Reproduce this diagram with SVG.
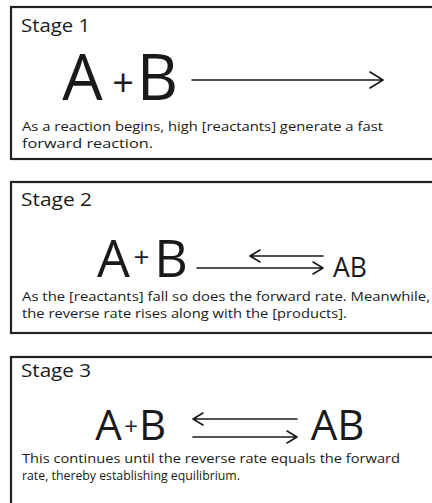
<svg xmlns="http://www.w3.org/2000/svg" width="432" height="503" viewBox="0 0 432 503">
  <style>
    .panel { fill: #ffffff; stroke: #222222; stroke-width: 2.2; }
    .title { font-family: "Open Sans", "Noto Sans", sans-serif; font-size: 18px; fill: #1a1a1a; }
    .caption { font-family: "Open Sans", "Noto Sans", sans-serif; font-size: 12.6px; fill: #1a1a1a; }
    .chem { font-family: "Open Sans", "Noto Sans", sans-serif; fill: #1a1a1a; text-anchor: middle; }
    .arrow { fill: none; stroke: #1a1a1a; stroke-width: 1.6; stroke-linecap: round; stroke-linejoin: round; }
  </style>
  <rect width="432" height="503" fill="#ffffff"/>

  <g id="stage1">
    <rect class="panel" x="11" y="7" width="430" height="152"/>
    <text class="title" x="21" y="32" textLength="69" lengthAdjust="spacingAndGlyphs">Stage 1</text>
    <text class="chem" x="82.5" y="100" font-size="64">A</text>
    <text class="chem" x="123" y="96" font-size="38">+</text>
    <text class="chem" x="157.5" y="100" font-size="64">B</text>
    <text class="caption" x="22" y="131" textLength="361" lengthAdjust="spacingAndGlyphs">As a reaction begins, high [reactants] generate a fast</text>
    <text class="caption" x="22" y="148" textLength="131" lengthAdjust="spacingAndGlyphs">forward reaction.</text>
  </g>

  <g id="stage2">
    <rect class="panel" x="11" y="182" width="430" height="151"/>
    <text class="title" x="21" y="206" textLength="71" lengthAdjust="spacingAndGlyphs">Stage 2</text>
    <text class="chem" x="113.5" y="277" font-size="52">A</text>
    <text class="chem" x="141.5" y="267" font-size="28">+</text>
    <text class="chem" x="171" y="277" font-size="52">B</text>
    <text class="chem" x="350" y="277" font-size="26.5">AB</text>
    <text class="caption" x="22" y="301" textLength="408" lengthAdjust="spacingAndGlyphs">As the [reactants] fall so does the forward rate. Meanwhile,</text>
    <text class="caption" x="22" y="318" textLength="325" lengthAdjust="spacingAndGlyphs">the reverse rate rises along with the [products].</text>
  </g>

  <g id="stage3">
    <rect class="panel" x="11" y="357" width="430" height="160"/>
    <text class="title" x="21" y="377" textLength="70" lengthAdjust="spacingAndGlyphs">Stage 3</text>
    <text class="chem" x="108.5" y="440" font-size="42">A</text>
    <text class="chem" x="131" y="435" font-size="24">+</text>
    <text class="chem" x="152.5" y="440" font-size="42">B</text>
    <text class="chem" x="337.5" y="440" font-size="42">AB</text>
    <text class="caption" x="22" y="463" textLength="378" lengthAdjust="spacingAndGlyphs">This continues until the reverse rate equals the forward</text>
    <text class="caption" x="22" y="480" textLength="218" lengthAdjust="spacingAndGlyphs">rate, thereby establishing equilibrium.</text>
  </g>

  <g id="connectors">
    <!-- stage 1: forward only -->
    <path class="arrow" d="M192 80 H383 M370 72 L383 80 L370 88"/>
    <!-- stage 2: long forward, short reverse -->
    <path class="arrow" d="M197 268 H323 M313 262 L323 268 L313 274"/>
    <path class="arrow" d="M323 256 H250 M260 250 L250 256 L260 262"/>
    <!-- stage 3: balanced pair -->
    <path class="arrow" d="M193 437 H297 M287 431 L297 437 L287 443"/>
    <path class="arrow" d="M297 419 H193 M203 413 L193 419 L203 425"/>
  </g>
</svg>
